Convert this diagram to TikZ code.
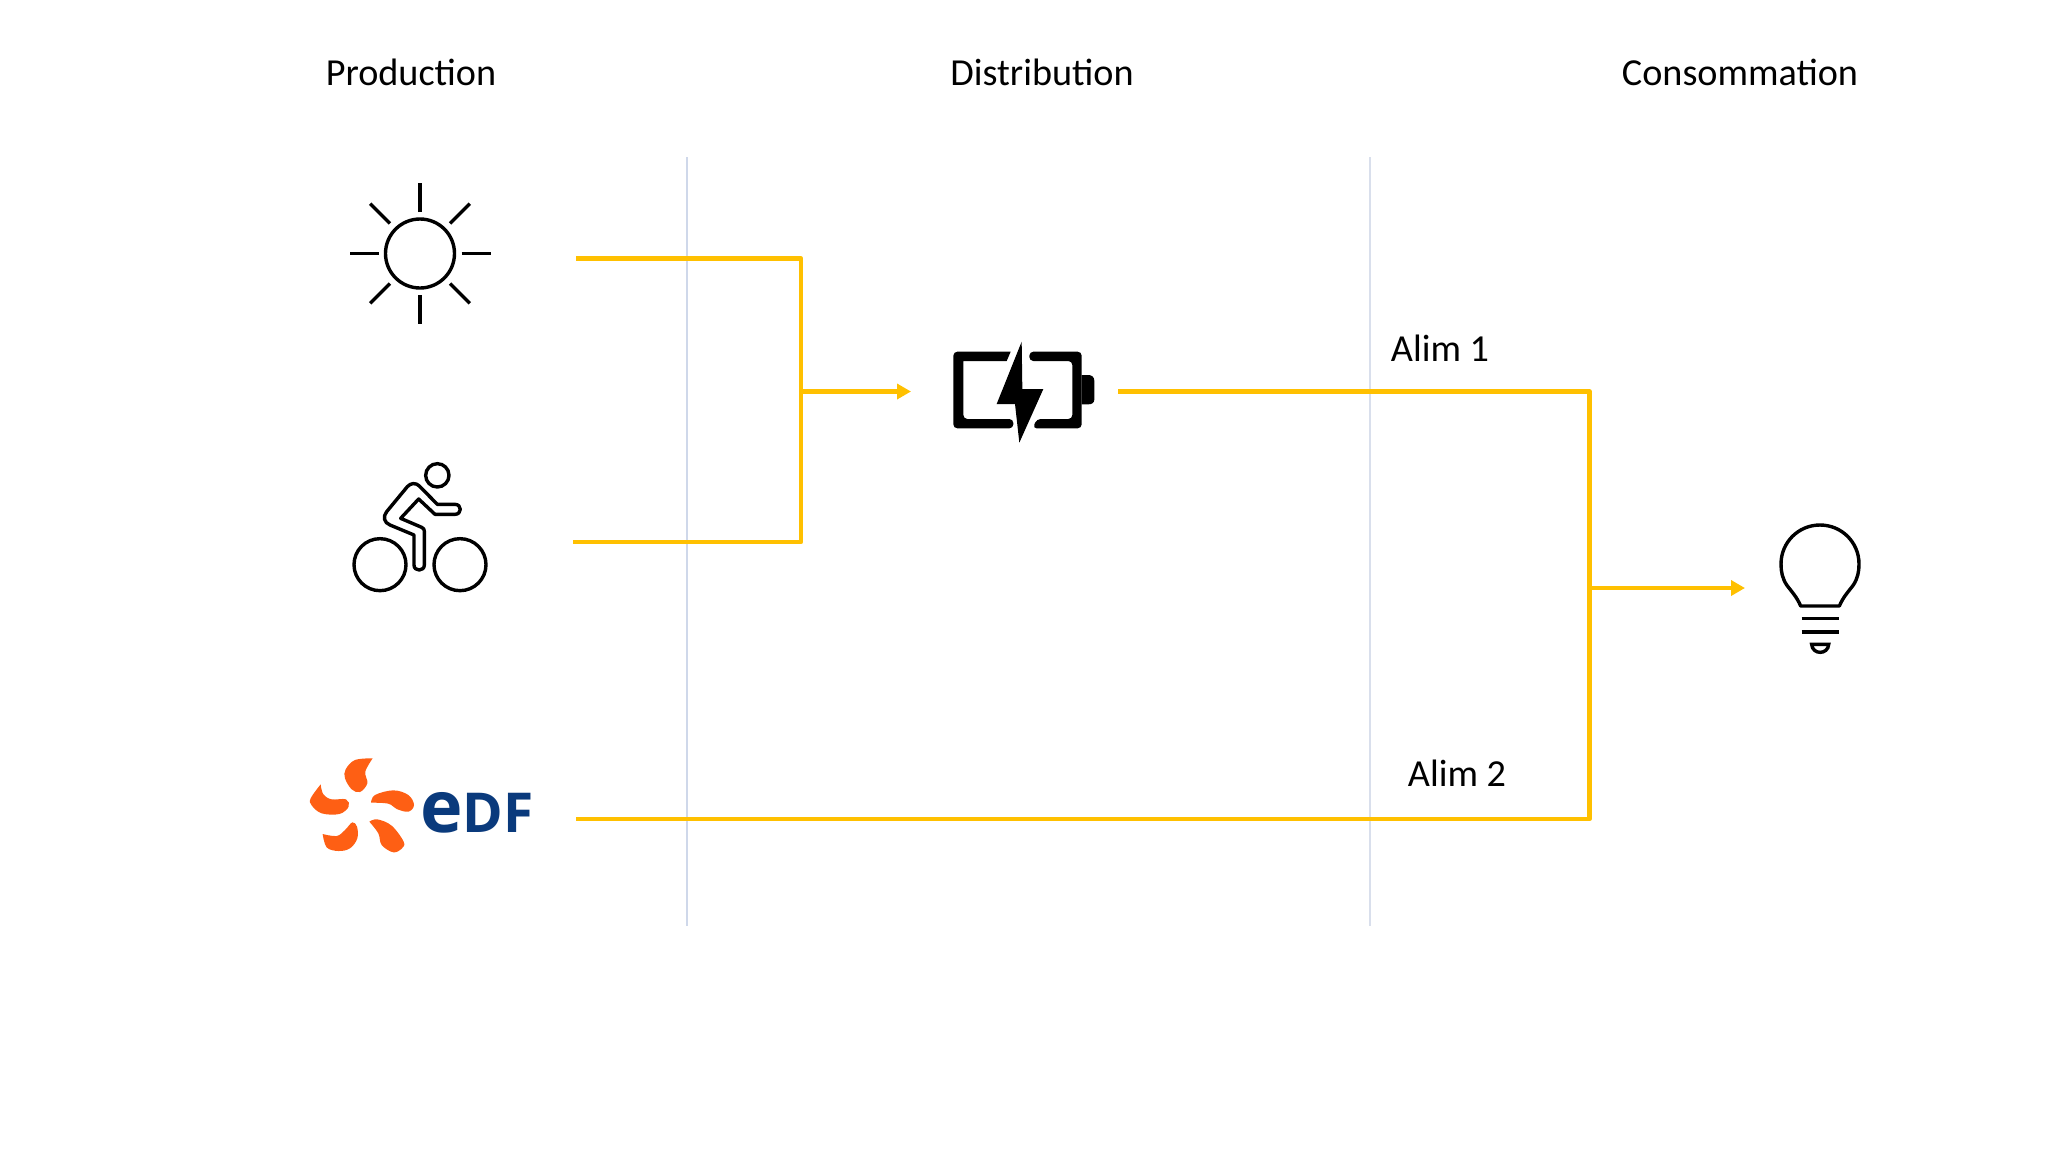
\documentclass[tikz,border=0pt]{standalone}
\usepackage{fontspec}
\setmainfont{Carlito}
\newfontfamily\logofont{Open Sans}
\usetikzlibrary{arrows.meta}
\definecolor{feedcol}{HTML}{FFC000}
\definecolor{edforange}{HTML}{FE5F14}
\definecolor{edfblue}{HTML}{0A3A7C}
\definecolor{sepacol}{HTML}{CFD8EA}
\definecolor{sepbcol}{HTML}{D9DFEC}

\begin{document}
\begin{tikzpicture}[
    x=0.5pt, y=-0.5pt,
    head/.style={font=\fontsize{19.1}{22}\selectfont, text=black, inner sep=0pt, anchor=base},
    divider/.style={line width=1pt},
    feed/.style={draw=feedcol, line width=2.3pt, line join=round},
    feedarrow/.style={feed, -{Triangle[length=7pt, width=7.5pt]}},
    icon/.style={black, line width=1.7pt},
    petal/.style={fill=edforange, draw=none}
]
    \useasboundingbox (0,0) rectangle (2048,1152);

    % Column titles
    \node[head] (prod) at (411,85) {Production};
    \node[head] (dist) at (1042,85) {Distribution};
    \node[head] (cons) at (1740,85) {Consommation};

    % Column separators
    \coordinate (sepatop) at (687,157);
    \coordinate (sepabot) at (687,926);
    \coordinate (sepbtop) at (1370,157);
    \coordinate (sepbbot) at (1370,926);
    \draw[divider, draw=sepacol] (sepatop) -- (sepabot);
    \draw[divider, draw=sepbcol] (sepbtop) -- (sepbbot);

    % Sun
    \coordinate (sun) at (420,253.5);
    \draw[icon] (sun) circle (34.5);
    \foreach \a in {0,90,180,270}
        \draw[icon] (sun) ++(\a:41.5) -- ++(\a:29);
    \foreach \a in {45,135,225,315}
        \draw[icon] (sun) ++(\a:42.5) -- ++(\a:28);

    % Bike
    \begin{scope}[shift={(280,160)}, scale=1/3]
        \draw[icon] (472,946) circle (35);
        \draw[icon] (300,1214) circle (78);
        \draw[icon] (540,1214) circle (78);
        \draw[icon, line join=round] (402,1215) -- (402,1125) -- (330,1095)
            .. controls (312,1088) and (308,1070) .. (320,1055)
            -- (382,980) .. controls (392,968) and (408,968) .. (418,978)
            -- (472,1033) -- (525,1033)
            .. controls (546,1033) and (546,1063) .. (525,1063)
            -- (465,1063) -- (416,1017) -- (362,1075) -- (425,1102)
            .. controls (431,1105) and (433,1108) .. (433,1114)
            -- (433,1215) .. controls (433,1235) and (402,1235) .. (402,1215) -- cycle;
    \end{scope}

    % EDF logo
    \begin{scope}[shift={(280,730)}, scale=1/3]
        \fill[petal] plot[smooth, tension=0.6] coordinates {(278,85) (225,90) (197,118) (195,145) (215,178) (240,186) (262,160) (256,125) (278,85)} -- cycle;
        \fill[petal] plot[smooth, tension=0.6] coordinates {(122,163) (130,193) (155,208) (198,208) (206,230) (178,252) (125,250) (95,226) (92,205) (122,163)} -- cycle;
        \fill[petal] plot[smooth, tension=0.6] coordinates {(128,312) (170,318) (195,300) (217,277) (231,290) (232,325) (210,355) (175,363) (140,352) (128,312)} -- cycle;
        \fill[petal] plot[smooth, tension=0.6] coordinates {(268,275) (292,268) (335,287) (371,335) (366,355) (340,367) (305,345) (295,310) (268,275)} -- cycle;
        \fill[petal] plot[smooth, tension=0.6] coordinates {(273,218) (285,195) (340,181) (385,195) (402,225) (385,245) (350,237) (325,221) (273,218)} -- cycle;
    \end{scope}
    \node[anchor=base west, inner sep=0pt, text=edfblue] (edf) at (420,832)
        {\logofont\bfseries\fontsize{36}{36}\selectfont e\fontsize{27.5}{28}\selectfont DF};

    % Battery
    \begin{scope}[shift={(900,320)}, scale=1/3]
        \fill[black, rounded corners=2pt] (332,95) -- (160,95) -- (160,325) -- (340,325)
            -- (340,297) -- (190,297) [sharp corners] -- (190,123) -- (320,123) -- cycle;
        \fill[black, rounded corners=2pt] (388,95) -- (545,95) -- (545,325) -- (398,325)
            -- (410,297) -- (517,297) -- (517,123) -- (388,123) -- cycle;
        \fill[black] (545,165) -- (565,165) .. controls (576,165) and (583,172) .. (583,183)
            -- (583,238) .. controls (583,248) and (576,253) .. (565,253) -- (545,253) -- cycle;
        \fill[black] (365,65) -- (290,252) -- (345,252) -- (358,368) -- (430,207) -- (367,207) -- cycle;
    \end{scope}

    % Bulb
    \begin{scope}[shift={(1560,500)}, scale=1/3]
        \draw[icon, line join=round] (722,318) -- (838,318)
            .. controls (850,290) and (865,275) .. (880,255)
            .. controls (893,235) and (897,215) .. (897,192)
            .. controls (897,127) and (845,75) .. (780,75)
            .. controls (715,75) and (663,127) .. (663,192)
            .. controls (663,215) and (667,235) .. (680,255)
            .. controls (695,275) and (710,290) .. (722,318) -- cycle;
        \draw[icon] (725,356) -- (838,356);
        \draw[icon] (725,396) -- (838,396);
        \draw[icon] (755,433) -- (806,433) .. controls (804,465) and (757,465) .. (755,433) -- cycle;
    \end{scope}

    % Feed ends
    \coordinate (sunout) at (576,258.5);
    \coordinate (bikeout) at (573,542);
    \coordinate (edfout) at (576,819);
    \coordinate (bustop) at (801,258.5);
    \coordinate (busbot) at (801,542);
    \coordinate (busin) at (801,391.5);
    \coordinate (battin) at (911,391.5);
    \coordinate (battout) at (1118,391.5);
    \coordinate (mergetop) at (1589.5,391.5);
    \coordinate (mergebot) at (1589.5,819);
    \coordinate (mergeout) at (1589.5,588);
    \coordinate (bulbin) at (1745,588);

    % Feeds
    \draw[feed] (sunout) -- (bustop) -- (busbot) -- (bikeout);
    \draw[feedarrow] (busin) -- (battin);
    \draw[feed] (battout) -- (mergetop) -- (mergebot) -- (edfout);
    \draw[feedarrow] (mergeout) -- (bulbin);

    % Labels
    \node[head] (alima) at (1440,361.5) {Alim 1};
    \node[head] (alimb) at (1457,786) {Alim 2};
\end{tikzpicture}
\end{document}
